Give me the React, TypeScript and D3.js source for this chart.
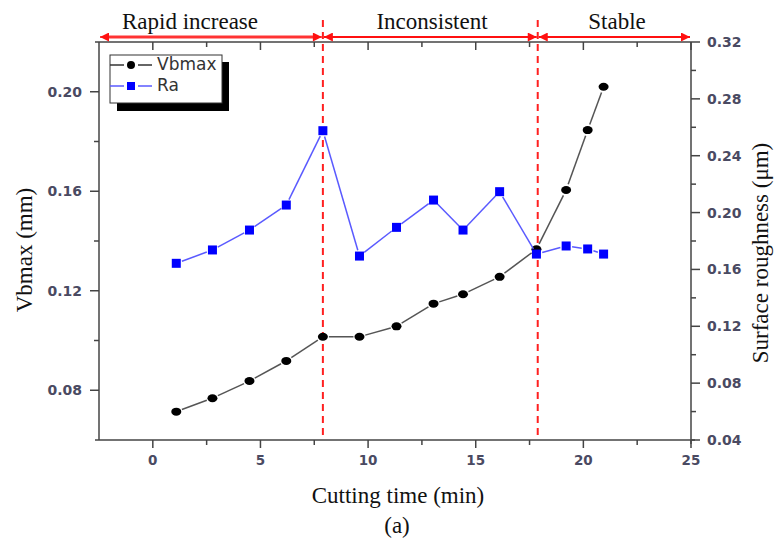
import React from "react";
import * as d3 from "d3";

const time = [1.09, 2.77, 4.49, 6.2, 7.9, 9.6, 11.32, 13.04, 14.41, 16.11, 17.82, 19.2, 20.2, 20.94];
const vbmax = [0.0714, 0.0768, 0.0837, 0.0918, 0.1015, 0.1015, 0.1057, 0.1148, 0.1186, 0.1256, 0.1367, 0.1605, 0.1846, 0.202];
const ra = [0.1643, 0.1737, 0.1877, 0.2053, 0.2576, 0.1694, 0.1896, 0.2088, 0.1877, 0.2147, 0.1708, 0.1765, 0.1744, 0.1708];
const xTicks = [0, 5, 10, 15, 20, 25];
const leftTicks = [0.08, 0.12, 0.16, 0.2];
const rightTicks = [0.04, 0.08, 0.12, 0.16, 0.2, 0.24, 0.28, 0.32];
const phaseBounds = [-2.5, 7.9, 17.88, 25];
const phaseLabels = ["Rapid increase", "Inconsistent", "Stable"];

const W = 774, H = 541;
const L = 99, R = 691, T = 42, B = 440;
const axisColor = "#444";
const tickTextColor = "#4a4a62";
const labelX = [190, 432, 617];

export default function App() {
  const x = d3.scaleLinear().domain([-2.5, 25]).range([L, R]);
  const yL = d3.scaleLinear().domain([0.06, 0.22]).range([B, T]);
  const yR = d3.scaleLinear().domain([0.04, 0.32]).range([B, T]);

  const segs = (ys: number[], sc: d3.ScaleLinear<number, number>, gap: number) => {
    const out: { x1: number; y1: number; x2: number; y2: number }[] = [];
    for (let i = 0; i < time.length - 1; i++) {
      const x1 = x(time[i]), y1 = sc(ys[i]), x2 = x(time[i + 1]), y2 = sc(ys[i + 1]);
      const len = Math.hypot(x2 - x1, y2 - y1);
      if (len <= 2 * gap) continue;
      const ux = (x2 - x1) / len, uy = (y2 - y1) / len;
      out.push({ x1: x1 + ux * gap, y1: y1 + uy * gap, x2: x2 - ux * gap, y2: y2 - uy * gap });
    }
    return out;
  };

  const xMinor = d3.range(-2.5, 25.01, 2.5).filter((v) => !xTicks.includes(v) && v > -2.5);
  const leftMinor = [0.1, 0.14, 0.18];
  const rightMinor = d3.range(0.06, 0.32, 0.04);

  const arrowY = 37;
  const serif = "'Liberation Serif', 'Times New Roman', serif";
  const sans = "'DejaVu Sans', Verdana, sans-serif";

  return (
    <svg width={W} height={H} style={{ position: "absolute", left: 0, top: 0, background: "#fff" }}>
      <defs>
        <marker id="ah" viewBox="0 0 10 10" refX="10" refY="5" markerWidth="11" markerHeight="9" markerUnits="userSpaceOnUse" orient="auto-start-reverse">
          <path d="M0,0 L10,5 L0,10 z" fill="#ff1010" />
        </marker>
      </defs>

      {/* axes frame */}
      <line x1={L} y1={T} x2={L} y2={B} stroke={axisColor} strokeWidth={1.5} />
      <line x1={R} y1={T} x2={R} y2={B + 4} stroke={axisColor} strokeWidth={1.5} />
      <line x1={L - 4} y1={B} x2={R + 4} y2={B} stroke={axisColor} strokeWidth={1.5} />
      <line x1={L - 4} y1={T} x2={R} y2={T} stroke={axisColor} strokeWidth={1.5} />

      {/* bottom ticks */}
      {xTicks.map((t) => (
        <g key={"xt" + t}>
          <line x1={x(t)} y1={B} x2={x(t)} y2={B + 8} stroke={axisColor} strokeWidth={1.5} />
          <line x1={x(t)} y1={T} x2={x(t)} y2={T + 8} stroke={axisColor} strokeWidth={1.5} />
          <text x={x(t)} y={B + 25} textAnchor="middle" fontFamily={sans} fontWeight="bold" fontSize={13.5} fill={tickTextColor}>
            {t}
          </text>
        </g>
      ))}
      {xMinor.map((t) => (
        <g key={"xm" + t}>
          <line x1={x(t)} y1={B} x2={x(t)} y2={B + 5} stroke={axisColor} strokeWidth={1.5} />
          <line x1={x(t)} y1={T} x2={x(t)} y2={T + 5} stroke={axisColor} strokeWidth={1.5} />
        </g>
      ))}

      {/* left ticks */}
      {leftTicks.map((t) => (
        <g key={"lt" + t}>
          <line x1={L - 9} y1={yL(t)} x2={L} y2={yL(t)} stroke={axisColor} strokeWidth={1.5} />
          <text x={L - 17} y={yL(t) + 5} textAnchor="end" fontFamily={sans} fontWeight="bold" fontSize={14} fill={tickTextColor}>
            {t.toFixed(2)}
          </text>
        </g>
      ))}
      {leftMinor.map((t) => (
        <line key={"lm" + t} x1={L - 5} y1={yL(t)} x2={L} y2={yL(t)} stroke={axisColor} strokeWidth={1.5} />
      ))}

      {/* right ticks */}
      {rightTicks.map((t) => (
        <g key={"rt" + t}>
          <line x1={R} y1={yR(t)} x2={R + 9} y2={yR(t)} stroke={axisColor} strokeWidth={1.5} />
          <text x={R + 16} y={yR(t) + 5} textAnchor="start" fontFamily={sans} fontWeight="bold" fontSize={14} fill={tickTextColor}>
            {t.toFixed(2)}
          </text>
        </g>
      ))}
      {rightMinor.map((t) => (
        <line key={"rm" + t} x1={R} y1={yR(t)} x2={R + 5} y2={yR(t)} stroke={axisColor} strokeWidth={1.5} />
      ))}

      {/* axis titles */}
      <text transform={`translate(32,250) rotate(-90)`} textAnchor="middle" fontFamily={serif} fontSize={23} fill="#111">
        Vbmax (mm)
      </text>
      <text transform={`translate(768,253) rotate(-90)`} textAnchor="middle" fontFamily={serif} fontSize={23} fill="#111">
        Surface roughness (μm)
      </text>
      <text x={398} y={503} textAnchor="middle" fontFamily={serif} fontSize={23} fill="#111">
        Cutting time (min)
      </text>
      <text x={397} y={533} textAnchor="middle" fontFamily={serif} fontSize={23} fill="#111">
        (a)
      </text>

      {/* phase dashed lines */}
      {phaseBounds.slice(1, 3).map((b) => (
        <line key={"pd" + b} x1={x(b)} y1={20} x2={x(b)} y2={B} stroke="#ff2020" strokeWidth={2} strokeDasharray="7,5" />
      ))}

      {/* phase arrows and labels */}
      {phaseLabels.map((lab, i) => {
        const a = x(phaseBounds[i]);
        const b = x(phaseBounds[i + 1]);
        return (
          <g key={lab}>
            {i === 0 && <line x1={a + 8} y1={arrowY} x2={b - 8} y2={arrowY} stroke="#ff9a9a" strokeWidth={4} />}
            <line x1={a + 1} y1={arrowY} x2={b - 1} y2={arrowY} stroke="#ff1010" strokeWidth={i === 0 ? 1.5 : 2} markerStart="url(#ah)" markerEnd="url(#ah)" />
            <text x={labelX[i]} y={29} textAnchor="middle" fontFamily={serif} fontSize={23} fill="#111">
              {lab}
            </text>
          </g>
        );
      })}

      {/* Vbmax series */}
      {segs(vbmax, yL, 6).map((s, i) => (
        <line key={"vs" + i} {...s} stroke="#555" strokeWidth={1.5} />
      ))}
      {time.map((t, i) => (
        <ellipse key={"vp" + i} cx={x(t)} cy={yL(vbmax[i])} rx={5} ry={4} fill="#000" />
      ))}

      {/* Ra series */}
      {segs(ra, yR, 6).map((s, i) => (
        <line key={"rs" + i} {...s} stroke="#5a5aff" strokeWidth={1.5} />
      ))}
      {time.map((t, i) => (
        <rect key={"rp" + i} x={x(t) - 4.5} y={yR(ra[i]) - 4.5} width={9} height={9} fill="#0000ff" />
      ))}

      {/* legend */}
      <rect x={117} y={62} width={112} height={49} fill="#000" />
      <rect x={110} y={55} width={112} height={48} fill="#fff" stroke="#333" strokeWidth={1} />
      <line x1={110} y1={65} x2={124} y2={65} stroke="#333" strokeWidth={1.5} />
      <line x1={138} y1={65} x2={152} y2={65} stroke="#333" strokeWidth={1.5} />
      <circle cx={131} cy={65} r={4} fill="#000" />
      <line x1={110} y1={86} x2={124} y2={86} stroke="#5a5aff" strokeWidth={1.5} />
      <line x1={138} y1={86} x2={152} y2={86} stroke="#5a5aff" strokeWidth={1.5} />
      <rect x={127} y={82} width={8} height={8} fill="#0000ff" />
      <text x={157} y={70} fontFamily={sans} fontSize={17} fill="#333">Vbmax</text>
      <text x={157} y={91} fontFamily={sans} fontSize={17} fill="#333">Ra</text>
    </svg>
  );
}
